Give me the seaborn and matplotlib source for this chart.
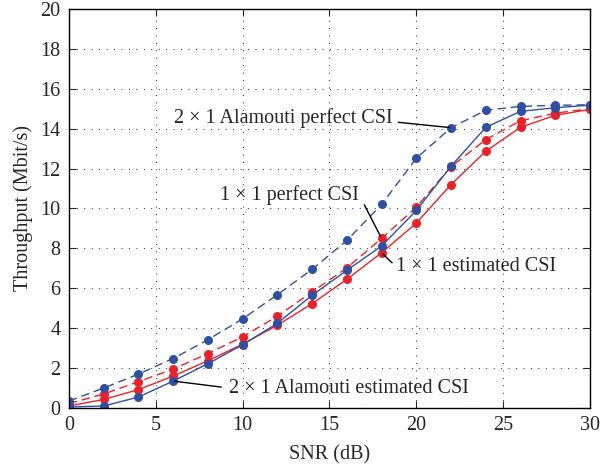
import numpy as np
import pandas as pd
import matplotlib
matplotlib.use("Agg")
import matplotlib.pyplot as plt
import seaborn as sns

# data
snr_db = np.arange(0, 31, 2)
alamouti_perfect = [0.35, 1.0, 1.7, 2.48, 3.42, 4.47, 5.68, 6.95, 8.4, 10.2,
                    12.52, 14.05, 14.92, 15.12, 15.17, 15.2]
alamouti_estimated = [0.05, 0.1, 0.55, 1.35, 2.22, 3.17, 4.25, 5.65, 6.9, 8.12,
                      9.9, 12.12, 14.07, 14.87, 15.05, 15.18]
siso_perfect = [0.22, 0.7, 1.32, 1.95, 2.73, 3.57, 4.6, 5.82, 7.02, 8.5,
                10.07, 12.1, 13.45, 14.4, 14.78, 15.0]
siso_estimated = [0.1, 0.43, 0.92, 1.6, 2.37, 3.2, 4.15, 5.23, 6.45, 7.78,
                  9.27, 11.2, 12.87, 14.07, 14.67, 14.97]

BLUE = "#2f4fa2"
RED = "#ec2029"

sns.set_style("ticks")
plt.rcParams["font.family"] = ["Liberation Serif", "DejaVu Serif"]

fig = plt.figure(figsize=(6.01, 4.71), dpi=100)
ax = fig.add_axes([0.1148, 0.1338, 0.8669, 0.8471])

# draw order: red first, then blue on top
series = [
    (siso_estimated, RED, "-"),
    (siso_perfect, RED, "--"),
    (alamouti_estimated, BLUE, "-"),
    (alamouti_perfect, BLUE, "--"),
]
for vals, color, ls in series:
    df = pd.DataFrame({"snr": snr_db, "thr": vals})
    sns.lineplot(data=df, x="snr", y="thr", ax=ax, color=color,
                 linestyle=ls, marker="o", markersize=6.5,
                 markeredgewidth=0, linewidth=1.0)
for l in ax.get_lines():
    if l.get_linestyle() == "--":
        l.set_dashes((6, 3.5))

ax.set_xlim(0, 30)
ax.set_ylim(0, 20)
ax.set_xticks(np.arange(0, 31, 5))
ax.set_yticks(np.arange(0, 21, 2))
ax.grid(True, color="black", linestyle=(0, (0.7, 6)), linewidth=0.8)
ax.tick_params(direction="in", length=5, width=0.8, labelsize=14.5,
               top=True, right=True, pad=6)
for s in ax.spines.values():
    s.set_visible(True)
    s.set_linewidth(1.0)
    s.set_color("black")

fs = 14.5
ax.set_xlabel("SNR (dB)", fontsize=fs, labelpad=7)
ax.set_ylabel("Throughput (Mbit/s)", fontsize=fs, labelpad=5)

ax.annotate("2 × 1 Alamouti perfect CSI", xy=(22, alamouti_perfect[11]),
            xytext=(18.62, 14.55), ha="right", va="center", fontsize=fs,
            arrowprops=dict(arrowstyle="-", color="black", lw=1.0,
                            relpos=(1.0, 0.3), shrinkA=2, shrinkB=1))
ax.annotate("1 × 1 perfect CSI", xy=(18, siso_perfect[9]),
            xytext=(16.67, 10.65), ha="right", va="center", fontsize=fs,
            arrowprops=dict(arrowstyle="-", color="black", lw=1.0,
                            relpos=(1.0, 0.6), shrinkA=4, shrinkB=2))
ax.annotate("1 × 1 estimated CSI", xy=(18, siso_estimated[9]),
            xytext=(18.85, 7.07), ha="left", va="center", fontsize=fs,
            arrowprops=dict(arrowstyle="-", color="black", lw=1.0,
                            relpos=(0.0, 0.5), shrinkA=1, shrinkB=1))
ax.annotate("2 × 1 Alamouti estimated CSI", xy=(6, alamouti_estimated[3]),
            xytext=(9.2, 1.0), ha="left", va="center", fontsize=fs,
            arrowprops=dict(arrowstyle="-", color="black", lw=1.0,
                            relpos=(0.0, 0.5), shrinkA=3, shrinkB=1))

fig.savefig("out.png", dpi=100)
